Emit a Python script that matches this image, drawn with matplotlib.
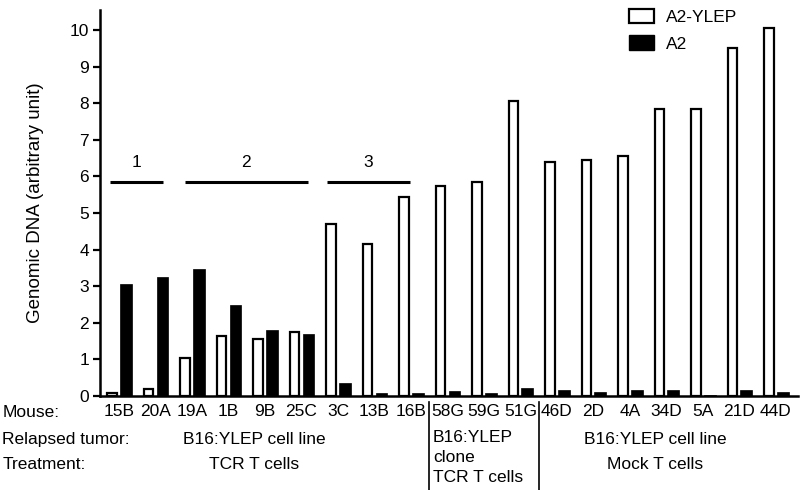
import matplotlib.pyplot as plt
import matplotlib.transforms as mtransforms
from matplotlib.patches import Patch
from matplotlib.lines import Line2D

plt.rcParams['font.family'] = ['Liberation Sans', 'DejaVu Sans']
FS = 12.5

# data
mice = ['15B', '20A', '19A', '1B', '9B', '25C', '3C', '13B', '16B',
        '58G', '59G', '51G', '46D', '2D', '4A', '34D', '5A', '21D', '44D']
a2_ylep = [0.08, 0.2, 1.05, 1.65, 1.55, 1.75, 4.7, 4.15, 5.45,
           5.75, 5.85, 8.05, 6.4, 6.45, 6.55, 7.85, 7.85, 9.5, 10.05]
a2 = [3.05, 3.25, 3.48, 2.5, 1.8, 1.7, 0.35, 0.08, 0.08,
      0.15, 0.08, 0.22, 0.17, 0.12, 0.17, 0.17, 0.03, 0.17, 0.1]
group_names = ['1', '2', '3']
group_spans = [(-0.25, 1.2), (1.8, 5.18), (5.7, 7.97)]

fig = plt.figure(figsize=(8.02, 4.9), dpi=100)
ax = fig.add_axes([0.1247, 0.1918, 0.870, 0.7878])

x = list(range(len(mice)))
ax.bar([i - 0.19 for i in x], a2_ylep, width=0.26, color='white',
       edgecolor='black', linewidth=1.6)
ax.bar([i + 0.19 for i in x], a2, width=0.32, color='black',
       edgecolor='black', linewidth=0.5)

ax.set_xlim(-0.52, 18.6)
ax.set_ylim(0, 10.55)
ax.set_yticks(range(0, 11))
ax.tick_params(axis='y', labelsize=FS, length=5, width=1.6, pad=3)
ax.tick_params(axis='x', length=0, labelsize=FS, pad=6)
ax.set_xticks(x)
ax.set_xticklabels(mice)
for s in ['top', 'right']:
    ax.spines[s].set_visible(False)
ax.spines['left'].set_linewidth(1.8)
ax.spines['bottom'].set_linewidth(1.8)
ax.set_ylabel('Genomic DNA (arbitrary unit)', fontsize=13.5)
ax.yaxis.set_label_coords(-0.08, 0.5)

# group brackets
for name, (a, b) in zip(group_names, group_spans):
    ax.plot([a, b], [5.86, 5.86], color='black', lw=2.2, solid_capstyle='butt')
    ax.text((a + b) / 2, 6.37, name, ha='center', va='center', fontsize=FS)

# legend
handles = [Patch(facecolor='white', edgecolor='black', linewidth=1.6),
           Patch(facecolor='black', edgecolor='black')]
fig.legend(handles, ['A2-YLEP', 'A2'], loc='upper left',
           bbox_to_anchor=(0.765, 1.014), frameon=False, fontsize=FS,
           handlelength=1.45, handleheight=0.92, labelspacing=0.6,
           handletextpad=0.65)

# table below the axis
tr = mtransforms.blended_transform_factory(ax.transData, fig.transFigure)
fig.text(0.003, 1 - 412 / 490, 'Mouse:', fontsize=FS, va='center')
fig.text(0.003, 1 - 439 / 490, 'Relapsed tumor:', fontsize=FS, va='center')
fig.text(0.003, 1 - 464 / 490, 'Treatment:', fontsize=FS, va='center')

ax.text(3.7, 1 - 439 / 490, 'B16:YLEP cell line', transform=tr,
        ha='center', va='center', fontsize=FS)
ax.text(3.7, 1 - 464 / 490, 'TCR T cells', transform=tr,
        ha='center', va='center', fontsize=FS)
ax.text(8.6, 1 - 437 / 490, 'B16:YLEP', transform=tr,
        ha='left', va='center', fontsize=FS)
ax.text(8.6, 1 - 457 / 490, 'clone', transform=tr,
        ha='left', va='center', fontsize=FS)
ax.text(8.6, 1 - 477 / 490, 'TCR T cells', transform=tr,
        ha='left', va='center', fontsize=FS)
ax.text(14.7, 1 - 439 / 490, 'B16:YLEP cell line', transform=tr,
        ha='center', va='center', fontsize=FS)
ax.text(14.7, 1 - 464 / 490, 'Mock T cells', transform=tr,
        ha='center', va='center', fontsize=FS)

for sx in [8.5, 11.5]:
    fig.add_artist(Line2D([sx, sx], [1 - 402 / 490, 0], transform=tr,
                          color='black', lw=1.2))

fig.savefig('out.png', dpi=100)
